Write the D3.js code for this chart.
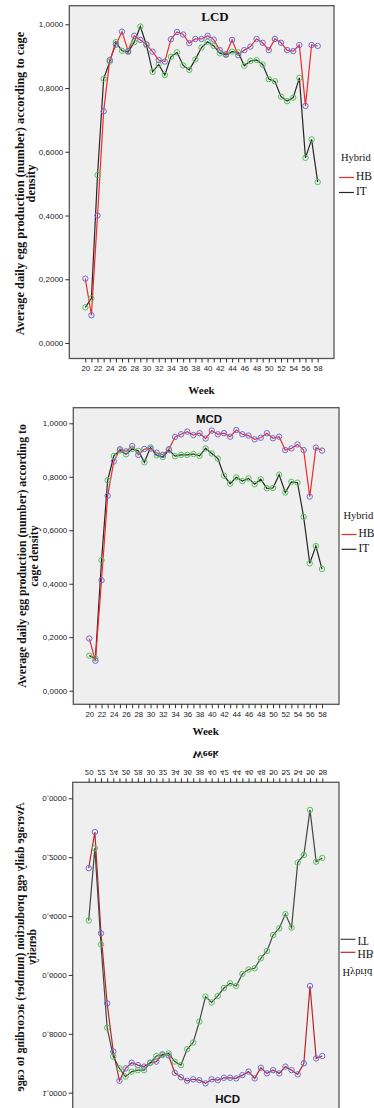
<!DOCTYPE html>
<html>
<head>
<meta charset="utf-8">
<script src="https://cdn.jsdelivr.net/npm/d3@7"></script>
<style>
  body { margin: 0; background: #fff; }
  svg { display: block; }
</style>
</head>
<body>
<div id="chart"></div>
<script>
// weeks on the x axis, labels shown every second week
const weeks = [20, 21, 22, 23, 24, 25, 26, 27, 28, 29, 30, 31, 32, 33, 34, 35, 36, 37, 38, 39,
  40, 41, 42, 43, 44, 45, 46, 47, 48, 49, 50, 51, 52, 53, 54, 55, 56, 57, 58];
const weekLabels = [20, 22, 24, 26, 28, 30, 32, 34, 36, 38, 40, 42, 44, 46, 48, 50, 52, 54, 56, 58];
const yTicks = [0, 0.2, 0.4, 0.6, 0.8, 1.0];
const hybrids = ['HB', 'IT'];

// LCD
const hbLCD = [0.202, 0.087, 0.400, 0.727, 0.888, 0.936, 0.977, 0.916, 0.964, 0.951, 0.937, 0.914, 0.888,
  0.883, 0.953, 0.976, 0.968, 0.941, 0.954, 0.954, 0.964, 0.952, 0.919, 0.906, 0.951, 0.903, 0.919,
  0.930, 0.954, 0.942, 0.919, 0.954, 0.942, 0.919, 0.916, 0.935, 0.744, 0.935, 0.932];
const itLCD = [0.112, 0.140, 0.527, 0.829, 0.883, 0.944, 0.917, 0.913, 0.944, 0.993, 0.935, 0.851, 0.874,
  0.841, 0.898, 0.912, 0.871, 0.857, 0.890, 0.927, 0.945, 0.932, 0.909, 0.904, 0.914, 0.912, 0.870,
  0.885, 0.888, 0.874, 0.828, 0.821, 0.773, 0.759, 0.770, 0.832, 0.581, 0.639, 0.505];

// MCD
const hbMCD = [0.195, 0.112, 0.413, 0.729, 0.857, 0.903, 0.895, 0.915, 0.882, 0.904, 0.905, 0.890, 0.882,
  0.903, 0.949, 0.959, 0.969, 0.956, 0.963, 0.943, 0.973, 0.959, 0.963, 0.950, 0.975, 0.959, 0.954,
  0.940, 0.946, 0.963, 0.944, 0.950, 0.900, 0.906, 0.921, 0.900, 0.726, 0.909, 0.898];
const itMCD = [0.131, 0.121, 0.488, 0.787, 0.878, 0.899, 0.884, 0.904, 0.897, 0.854, 0.910, 0.880, 0.874,
  0.900, 0.877, 0.882, 0.882, 0.885, 0.878, 0.906, 0.887, 0.868, 0.804, 0.774, 0.798, 0.784, 0.794,
  0.772, 0.791, 0.757, 0.758, 0.808, 0.741, 0.781, 0.778, 0.650, 0.476, 0.541, 0.455];

// HCD
const hbHCD = [0.234, 0.111, 0.455, 0.693, 0.857, 0.956, 0.914, 0.895, 0.903, 0.908, 0.895, 0.891, 0.866,
  0.870, 0.929, 0.944, 0.956, 0.951, 0.954, 0.965, 0.951, 0.954, 0.946, 0.946, 0.948, 0.937, 0.925,
  0.948, 0.912, 0.931, 0.920, 0.931, 0.908, 0.920, 0.934, 0.897, 0.634, 0.880, 0.872];
const itHCD = [0.412, 0.166, 0.493, 0.776, 0.874, 0.914, 0.942, 0.925, 0.920, 0.920, 0.895, 0.872, 0.869,
  0.863, 0.891, 0.903, 0.849, 0.826, 0.755, 0.670, 0.690, 0.668, 0.641, 0.625, 0.634, 0.593, 0.578,
  0.574, 0.540, 0.515, 0.461, 0.438, 0.390, 0.436, 0.215, 0.189, 0.036, 0.212, 0.199];

const SERIF = '"Liberation Serif", "DejaVu Serif", serif';
const SANS = '"Liberation Sans", Arial, sans-serif';
const fmt = v => d3.format('.4f')(v).replace('.', ',');

const svg = d3.select('#chart').append('svg')
  .attr('width', 374)
  .attr('height', 1108);

function drawPanel(g, p, hb, it) {
  const x = d3.scaleLinear().domain([20, 58]).range([p.x20, p.x58]);
  const y = d3.scaleLinear().domain([0, 1]).range([p.y0, p.y1]);

  // plot frame
  g.append('rect')
    .attr('x', p.left).attr('y', p.top)
    .attr('width', p.right - p.left).attr('height', p.bottom - p.top)
    .attr('fill', '#efefef')
    .attr('stroke', '#555')
    .attr('stroke-width', 1.3);

  // y axis
  const ya = g.append('g')
    .attr('transform', 'translate(' + p.left + ',0)')
    .call(d3.axisLeft(y).tickValues(yTicks).tickFormat(fmt).tickSize(4).tickPadding(2));
  ya.select('.domain').remove();
  ya.selectAll('line').attr('stroke', '#333');
  ya.selectAll('text')
    .attr('font-family', SANS).attr('font-size', 8).attr('fill', '#222');

  // x axis
  const xa = g.append('g')
    .attr('transform', 'translate(0,' + p.bottom + ')')
    .call(d3.axisBottom(x).tickValues(weeks)
      .tickFormat(d => weekLabels.includes(d) ? d : '')
      .tickSize(4).tickPadding(3));
  xa.select('.domain').remove();
  xa.selectAll('line').attr('stroke', '#333');
  xa.selectAll('text')
    .attr('font-family', SANS).attr('font-size', 7.8).attr('fill', '#222');

  // titles
  g.append('text')
    .attr('x', p.titleX).attr('y', p.titleY)
    .attr('text-anchor', 'middle').attr('dominant-baseline', 'middle')
    .attr('font-family', p.titleFont).attr('font-weight', 'bold').attr('font-size', p.titleSize)
    .attr('fill', '#111')
    .text(p.title);

  g.append('text')
    .attr('x', (p.x20 + p.x58) / 2).attr('y', p.weekY)
    .attr('text-anchor', 'middle').attr('dominant-baseline', 'middle')
    .attr('font-family', SERIF).attr('font-weight', 'bold').attr('font-size', 11)
    .attr('fill', '#111')
    .text('Week');

  p.yTitle.forEach((line, i) => {
    g.append('text')
      .attr('transform', 'translate(' + p.yTitleX[i] + ',' + p.yTitleY + ') rotate(-90)')
      .attr('text-anchor', 'middle').attr('dominant-baseline', 'middle')
      .attr('font-family', SERIF).attr('font-weight', 'bold').attr('font-size', p.yTitleSize)
      .attr('fill', '#111')
      .text(line);
  });

  // lines and markers
  const line = d3.line().x((d, i) => x(weeks[i])).y(d => y(d));
  const series = [
    { name: 'HB', values: hb, color: p.hbColor, marker: '#6c6cd6' },
    { name: 'IT', values: it, color: p.itColor, marker: '#55c455' }
  ];
  const order = p.itOnTop ? series : series.slice().reverse();
  order.forEach(s => {
    g.append('path')
      .datum(s.values)
      .attr('fill', 'none')
      .attr('stroke', s.color)
      .attr('stroke-width', 1.2)
      .attr('d', line);
  });
  order.forEach(s => {
    g.selectAll(null)
      .data(s.values)
      .enter()
      .append('circle')
      .attr('cx', (d, i) => x(weeks[i]))
      .attr('cy', d => y(d))
      .attr('r', 2.7)
      .attr('fill', 'none')
      .attr('stroke', s.marker)
      .attr('stroke-width', 1);
  });

  // legend
  g.append('text')
    .attr('x', p.legX + 2).attr('y', p.legHybridY)
    .attr('dominant-baseline', 'middle')
    .attr('font-family', SERIF).attr('font-size', 10.5).attr('fill', '#111')
    .text('Hybrid');
  series.forEach((s, i) => {
    const ly = i === 0 ? p.legHbY : p.legItY;
    g.append('line')
      .attr('x1', p.legX).attr('x2', p.legX + 15)
      .attr('y1', ly).attr('y2', ly)
      .attr('stroke', s.color).attr('stroke-width', 1.2);
    g.append('text')
      .attr('x', p.legX + 17).attr('y', ly)
      .attr('dominant-baseline', 'middle')
      .attr('font-family', SERIF).attr('font-size', 11.5).attr('fill', '#111')
      .text(hybrids[i]);
  });
}

// LCD panel
drawPanel(svg.append('g'), {
  left: 69.3, top: 5.7, right: 334, bottom: 358.5,
  x20: 85.3, x58: 317.7, y0: 343, y1: 24.3,
  title: 'LCD', titleX: 215, titleY: 18, titleFont: SERIF, titleSize: 13,
  weekY: 391,
  yTitle: ['Average daily egg production (number) according to cage', 'density'],
  yTitleX: [21, 32.5], yTitleY: 183.5, yTitleSize: 12.4,
  hbColor: '#f2292b', itColor: '#262626', itOnTop: false,
  legX: 339, legHybridY: 158.5, legHbY: 177.5, legItY: 192.5
}, hbLCD, itLCD);

// MCD panel
drawPanel(svg.append('g'), {
  left: 73.3, top: 407.7, right: 339, bottom: 704.3,
  x20: 89.3, x58: 322, y0: 690.7, y1: 423.3,
  title: 'MCD', titleX: 209, titleY: 419.5, titleFont: SANS, titleSize: 11.5,
  weekY: 732,
  yTitle: ['Average daily egg production (number) according to', 'cage density'],
  yTitleX: [23.3, 34.8], yTitleY: 556, yTitleSize: 11.8,
  hbColor: '#f2292b', itColor: '#262626', itOnTop: false,
  legX: 341.5, legHybridY: 517, legHbY: 534.5, legItY: 549.3
}, hbMCD, itMCD);

// HCD panel, drawn upside down (mirrored vertically) as in the source figure
drawPanel(svg.append('g').attr('transform', 'translate(0,1850) scale(1,-1)'), {
  left: 72.7, top: 736, right: 339, bottom: 1067.7,
  x20: 88.7, x58: 322.3, y0: 1050.7, y1: 756.3,
  title: 'HCD', titleX: 227.7, titleY: 752, titleFont: SANS, titleSize: 11.5,
  weekY: 1096,
  yTitle: ['Average daily egg production (number) according to cage', 'density'],
  yTitleX: [21, 33.5], yTitleY: 903, yTitleSize: 11.8,
  hbColor: '#b8262a', itColor: '#454545', itOnTop: true,
  legX: 340.5, legHybridY: 878.3, legHbY: 897.7, legItY: 910.7
}, hbHCD, itHCD);
</script>
</body>
</html>
